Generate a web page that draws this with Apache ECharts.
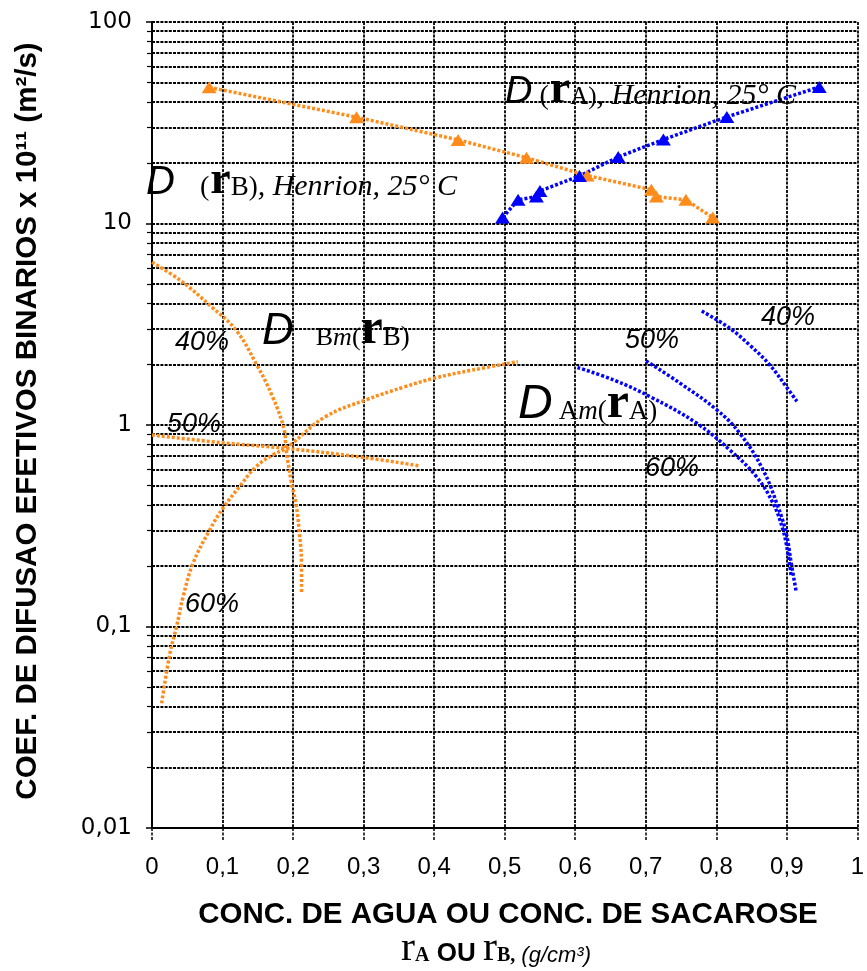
<!DOCTYPE html>
<html><head><meta charset="utf-8">
<script src="https://cdn.jsdelivr.net/npm/echarts@6/dist/echarts.min.js"></script>
<style>html,body{margin:0;padding:0;background:#fff}#c{width:867px;height:971px}</style>
</head><body><div id="c"></div>
<script>
// ---- tick labels ----
const xTickLabels = ['0','0,1','0,2','0,3','0,4','0,5','0,6','0,7','0,8','0,9','1'];
const yTickValues = [0.01, 0.1, 1, 10, 100];
const yTickLabels = ['0,01','0,1','1','10','100'];

// ---- Henrion 25 °C data (triangles) ----
const henrionB_x = [0.081, 0.290, 0.434, 0.531, 0.617, 0.708, 0.715, 0.757, 0.795];
const henrionB_y = [47.4, 33.7, 26.0, 21.2, 17.3, 14.7, 13.6, 13.1, 10.7];
const henrionA_x = [0.497, 0.519, 0.545, 0.550, 0.606, 0.661, 0.725, 0.815, 0.946];
const henrionA_y = [10.7, 13.1, 13.6, 14.5, 17.2, 21.4, 26.1, 33.8, 47.6];

// ---- effective diffusivity curves (x, D) ----
const dBm40 = [[0,6.42],[0.0395,5.24],[0.084,3.87],[0.119,2.96],[0.1475,2.02],[0.171,1.38],[0.1875,0.944],[0.19,0.766],[0.197,0.533],[0.204,0.408],[0.2086,0.301],[0.2119,0.206],[0.212,0.146]];
const dBm50 = [[0,0.892],[0.099,0.817],[0.19,0.766],[0.2988,0.691],[0.3777,0.628]];
const dBm60 = [[0.0137,0.0416],[0.0254,0.0736],[0.0348,0.0998],[0.0441,0.1406],[0.0582,0.206],[0.0817,0.301],[0.1005,0.386],[0.124,0.494],[0.1475,0.621],[0.171,0.71],[0.19,0.766],[0.199,0.811],[0.246,1.10],[0.3026,1.33],[0.359,1.55],[0.401,1.71],[0.453,1.87],[0.5187,2.06]];
const dAm40 = [[0.7794,3.68],[0.8193,3.02],[0.8475,2.49],[0.8757,1.99],[0.8992,1.55],[0.9143,1.31]];
const dAm50 = [[0.7005,2.08],[0.7489,1.61],[0.8006,1.19],[0.8334,0.909],[0.8664,0.598],[0.8875,0.393],[0.8992,0.29],[0.9063,0.206],[0.9133,0.149]];
const dAm60 = [[0.6032,1.93],[0.655,1.67],[0.7066,1.38],[0.7724,1.02],[0.8193,0.751],[0.857,0.554],[0.8805,0.409],[0.8946,0.301],[0.9016,0.231],[0.906,0.18]];

const ORANGE = '#FF8C1A';
const BLUE = '#0000FF';
const SANS = '"Liberation Sans", Arial, sans-serif';
const SERIF = '"Liberation Serif", "Times New Roman", serif';

const zip = (xs, ys) => xs.map((x, i) => [x, ys[i]]);

function henrion(name, xs, ys, color) {
  return {
    name, type: 'line', data: zip(xs, ys), z: 5,
    symbol: 'triangle', symbolSize: [15, 12], showSymbol: true,
    itemStyle: { color },
    lineStyle: { color, width: 3.5, type: [3, 2] },
    animation: false
  };
}
function curve(name, data, color) {
  return {
    name, type: 'line', data, z: 4, smooth: 0.4,
    showSymbol: false, symbol: 'none',
    lineStyle: { color, width: 3.5, type: [3, 2] },
    animation: false
  };
}

const gridLine = { color: '#000', width: 1.8, type: [3, 1.2] };

// text pieces laid on a common baseline, widths measured with canvas
const mctx = document.createElement('canvas').getContext('2d');
function seq(x0, baseline, segs, center) {
  const items = segs.map(([t, size, fam, st, wt, gap]) => {
    const font = (st || 'normal') + ' ' + (wt || 'normal') + ' ' + size + 'px ' + fam;
    mctx.font = font;
    return { t, size, fam, font, w: mctx.measureText(t).width, gap: gap || 0 };
  });
  const total = items.reduce((s, it) => s + it.w + it.gap, 0);
  let x = center ? x0 - total / 2 : x0;
  const out = [];
  for (const it of items) {
    x += it.gap;
    const k = it.fam === SERIF ? 0.3375 : 0.3465;
    out.push({ type: 'text', x, y: baseline - k * it.size, z: 100, silent: true,
      style: { text: it.t, font: it.font, fill: '#000', align: 'left', verticalAlign: 'middle' } });
    x += it.w;
  }
  return out;
}
function pct(x, y, t) {
  return { type: 'text', x, y, z: 100, silent: true,
    style: { text: t, font: 'italic normal 27px ' + SANS, fill: '#000', align: 'center', verticalAlign: 'middle' } };
}

const chart = echarts.init(document.getElementById('c'), null, { renderer: 'canvas' });
chart.setOption({
  animation: false,
  backgroundColor: '#fff',
  grid: { left: 152, right: 5, top: 22, bottom: 143, containLabel: false },
  xAxis: {
    type: 'value', min: 0, max: 1, interval: 0.1,
    axisLine: { show: true, onZero: false, lineStyle: { color: '#000', width: 2 } },
    axisTick: { show: true, length: 12, lineStyle: { color: '#000', width: 1.5, type: [3, 1.5] } },
    splitLine: { show: true, lineStyle: gridLine },
    axisLabel: { margin: 27, fontSize: 24, fontFamily: SANS, color: '#000',
      formatter: v => xTickLabels[Math.round(v * 10)] }
  },
  yAxis: {
    type: 'log', logBase: 10, min: 0.01, max: 100, splitNumber: 4,
    axisLine: { show: true, lineStyle: { color: '#000', width: 2 } },
    axisTick: { show: true, length: 6, lineStyle: { color: '#000', width: 1.5 } },
    minorTick: { show: true, splitNumber: 9, length: 5, lineStyle: { color: '#000', width: 1.2 } },
    splitLine: { show: true, lineStyle: gridLine },
    minorSplitLine: { show: true, lineStyle: gridLine },
    axisLabel: { margin: 20, fontSize: 23, fontFamily: '"DejaVu Sans", Verdana, sans-serif', color: '#000',
      formatter: v => { const i = yTickValues.findIndex(t => Math.abs(Math.log10(t) - Math.log10(v)) < 1e-6); return i >= 0 ? yTickLabels[i] : ''; } }
  },
  series: [
    henrion('D(rB) Henrion', henrionB_x, henrionB_y, ORANGE),
    henrion('D(rA) Henrion', henrionA_x, henrionA_y, BLUE),
    curve('DBm 40%', dBm40, ORANGE),
    curve('DBm 50%', dBm50, ORANGE),
    curve('DBm 60%', dBm60, ORANGE),
    curve('DAm 40%', dAm40, BLUE),
    curve('DAm 50%', dAm50, BLUE),
    curve('DAm 60%', dAm60, BLUE)
  ],
  graphic: [
    { type: 'text', x: 28, y: 421, rotation: Math.PI / 2, z: 100, silent: true,
      style: { text: 'COEF. DE DIFUSAO EFETIVOS BINARIOS x 10¹¹ (m²/s)', font: 'normal bold 29.5px ' + SANS,
               fill: '#000', align: 'center', verticalAlign: 'middle' } },
    { type: 'text', x: 508, y: 915, z: 100, silent: true,
      style: { text: 'CONC. DE AGUA OU CONC. DE SACAROSE', font: 'normal bold 29.5px ' + SANS,
               fill: '#000', align: 'center', verticalAlign: 'middle' } },
    ...seq(496, 963, [
      ['r', 42, SERIF], ['A', 20, SERIF, 'normal', 'bold'], [' OU ', 26, SANS, 'normal', 'bold'],
      ['r', 42, SERIF], ['B,', 20, SERIF, 'normal', 'bold'], [' (g/cm³)', 22, SANS, 'italic']
    ], true),
    ...seq(505, 106, [
      ['D', 38, SANS, 'italic'], ['(', 28, SERIF, 'normal', 'normal', 7], ['r', 46, SERIF, 'normal', 'bold', 1],
      ['A)', 25, SERIF], [', Henrion, 25° C', 30, SERIF, 'italic']
    ]),
    ...seq(146, 197, [
      ['D', 40, SANS, 'italic'], ['(', 28, SERIF, 'normal', 'normal', 25], ['r', 46, SERIF, 'normal', 'bold', 1],
      ['B)', 27, SERIF], [', Henrion, 25° C', 30, SERIF, 'italic']
    ]),
    ...seq(262, 347, [
      ['D', 44, SANS, 'italic'], ['B', 26, SERIF, 'normal', 'normal', 22], ['m', 26, SERIF, 'italic'], ['(', 26, SERIF],
      ['r', 50, SERIF, 'normal', 'bold'], ['B)', 27, SERIF]
    ]),
    ...seq(518, 421, [
      ['D', 48, SANS, 'italic'], ['A', 27, SERIF, 'normal', 'normal', 6], ['m', 27, SERIF, 'italic'], ['(', 27, SERIF],
      ['r', 50, SERIF, 'normal', 'bold'], ['A)', 27, SERIF]
    ]),
    pct(202, 342, '40%'), pct(194, 424, '50%'), pct(212, 604, '60%'),
    pct(788, 317, '40%'), pct(652, 340, '50%'), pct(672, 468, '60%')
  ]
});
</script></body></html>
